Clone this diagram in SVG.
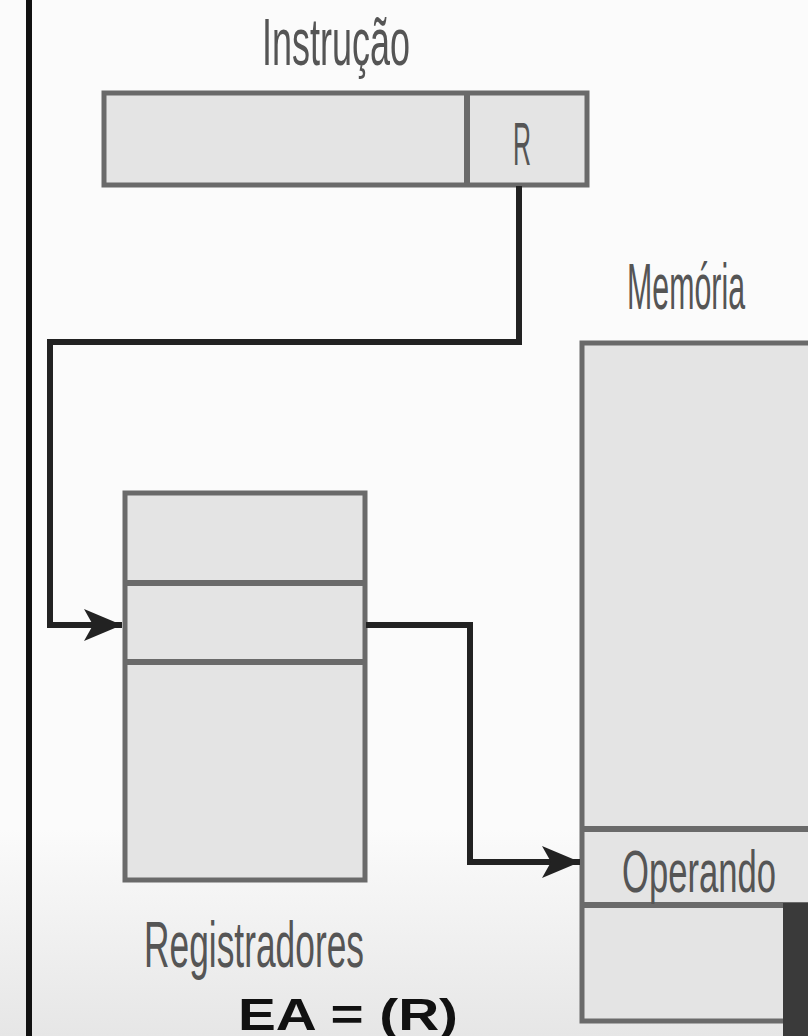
<svg xmlns="http://www.w3.org/2000/svg" width="808" height="1036" viewBox="0 0 808 1036">
<defs>
<style>
.box{fill:#e4e4e4;stroke:#6a6a6a;stroke-width:5}
.div{stroke:#6a6a6a;stroke-width:6}
.lbl{font-family:"Liberation Sans Narrow","Liberation Sans",sans-serif;fill:#555;text-anchor:middle}
.wire{fill:none;stroke:#222;stroke-width:6}
</style>
<marker id="ah2" markerWidth="38" markerHeight="32" refX="38" refY="16" orient="auto" markerUnits="userSpaceOnUse">
<path d="M0,0 L38,16 L0,32 L9,16 Z" fill="#222"/>
</marker>
<linearGradient id="bg" x1="0" y1="0" x2="0" y2="1">
<stop offset="0.8" stop-color="#fbfbfb"/>
<stop offset="1" stop-color="#e6e6e6"/>
</linearGradient>
</defs>
<rect x="0" y="0" width="808" height="1036" fill="url(#bg)"/>
<rect x="26" y="0" width="6" height="1036" fill="#111"/>

<g id="instrucao">
<text class="lbl" x="336" y="65" font-size="66" textLength="148" lengthAdjust="spacingAndGlyphs">Instrução</text>
<rect class="box" x="104" y="93" width="483" height="92"/>
<line class="div" x1="467" y1="93" x2="467" y2="185"/>
<text class="lbl" x="522" y="165" font-size="62" textLength="18" lengthAdjust="spacingAndGlyphs">R</text>
</g>

<g id="memoria">
<text class="lbl" x="686" y="309" font-size="64" textLength="118" lengthAdjust="spacingAndGlyphs">Memória</text>
<rect class="box" x="582" y="343" width="240" height="678"/>
<line class="div" x1="582" y1="829" x2="808" y2="829"/>
<line class="div" x1="582" y1="905" x2="808" y2="905"/>
<text class="lbl" x="699" y="892" font-size="60" textLength="154" lengthAdjust="spacingAndGlyphs">Operando</text>
<rect x="783" y="903" width="25" height="133" fill="#3a3a3a"/>
</g>

<g id="registradores">
<rect class="box" x="125" y="493" width="240" height="387"/>
<line class="div" x1="125" y1="583" x2="365" y2="583"/>
<line class="div" x1="125" y1="662" x2="365" y2="662"/>
<text class="lbl" x="254" y="967" font-size="64" textLength="220" lengthAdjust="spacingAndGlyphs">Registradores</text>
</g>

<g id="formula">
<text x="348" y="1030" font-family="Liberation Sans, Arial, sans-serif" font-weight="bold" font-size="44" fill="#111" text-anchor="middle" textLength="220" lengthAdjust="spacingAndGlyphs">EA = (R)</text>
</g>

<g id="connectors">
<path class="wire" d="M519,186 V342 H50 V625 H122" marker-end="url(#ah2)"/>
<path class="wire" d="M366,625 H470 V862 H580" marker-end="url(#ah2)"/>
</g>
</svg>
